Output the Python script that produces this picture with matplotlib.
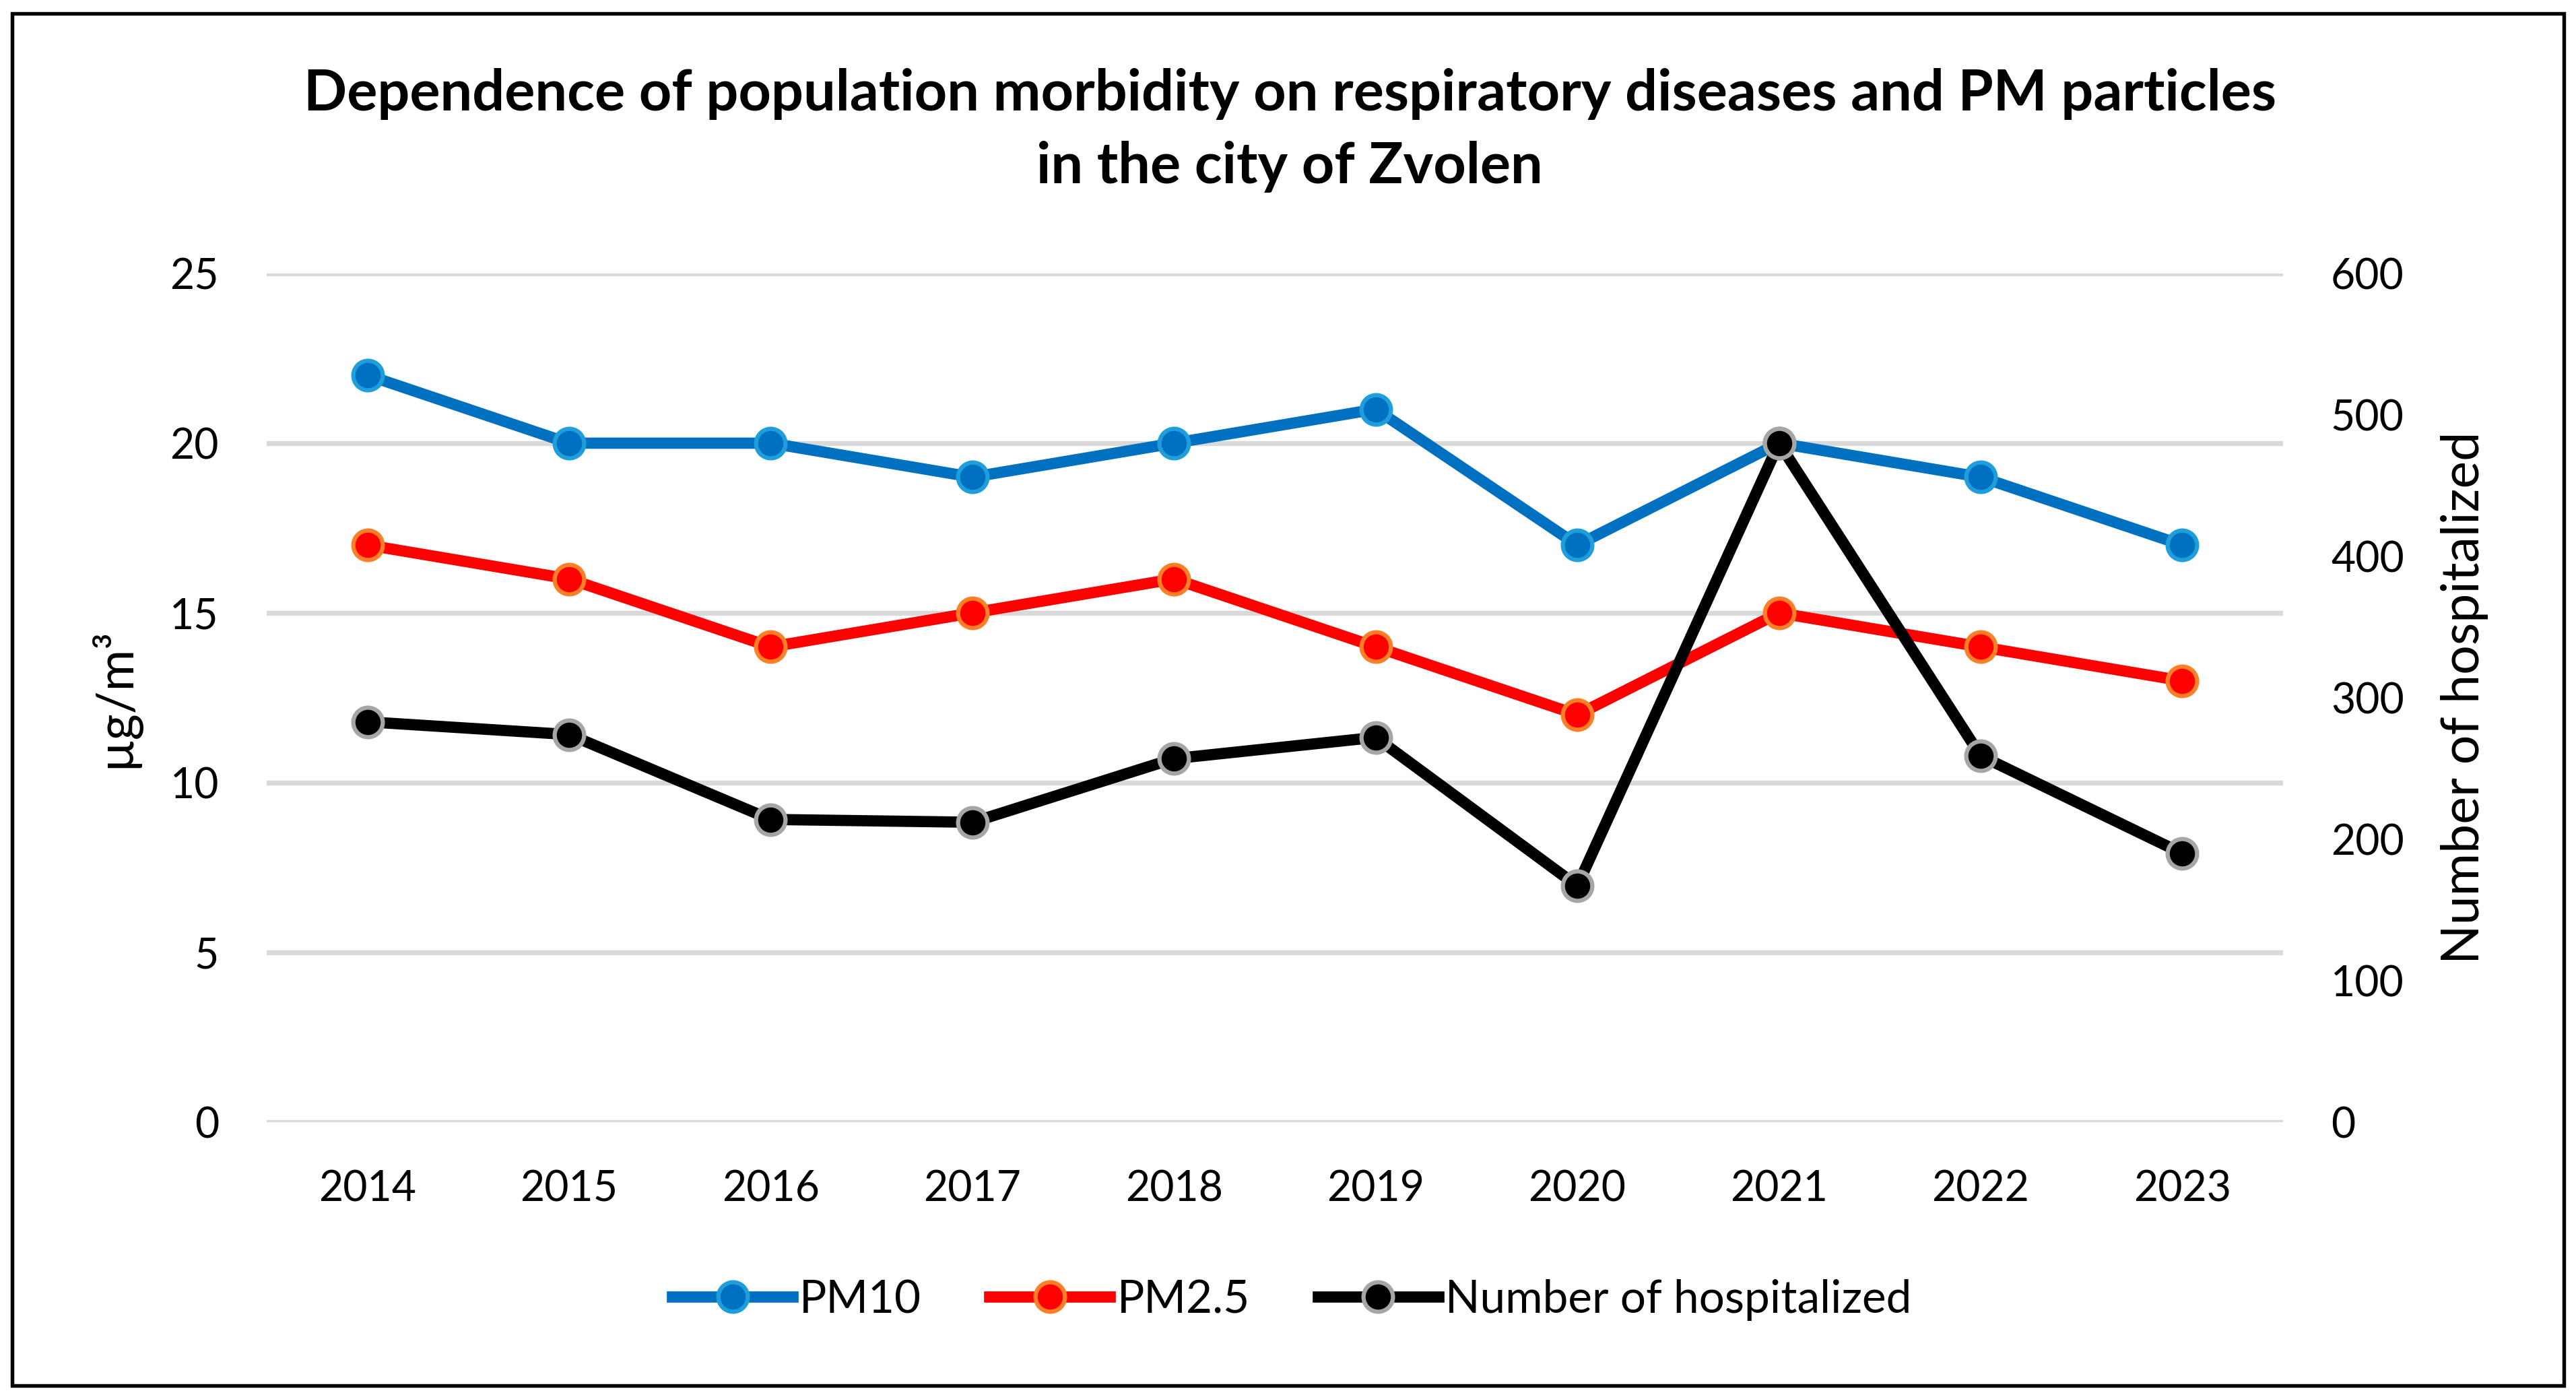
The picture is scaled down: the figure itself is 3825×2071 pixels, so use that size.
import matplotlib
matplotlib.use("Agg")
from matplotlib import pyplot as plt
from matplotlib.patches import Rectangle

years = ["2014", "2015", "2016", "2017", "2018", "2019", "2020", "2021", "2022", "2023"]
pm10 = [22, 20, 20, 19, 20, 21, 17, 20, 19, 17]
pm25 = [17, 16, 14, 15, 16, 14, 12, 15, 14, 13]
hospitalized = [283, 274, 214, 212, 257, 272, 167, 480, 259, 190]

plt.rcParams['font.family'] = ['Lato', 'DejaVu Sans']

fig = plt.figure(figsize=(12.75, 2071 / 300), dpi=300)
ax = fig.add_axes([0.1035, 0.1956, 0.7828, 0.6084])
ax2 = ax.twinx()

x = list(range(len(years)))
l1, = ax.plot(x, pm10, color='#0070C0', lw=4, marker='o', ms=10.5,
              mfc='#0070C0', mec='#1E9FDC', mew=1.5, label='PM10')
l2, = ax.plot(x, pm25, color='#FF0000', lw=4, marker='o', ms=10.5,
              mfc='#FF0000', mec='#FF7F27', mew=1.5, label='PM2.5')
l3, = ax2.plot(x, hospitalized, color='black', lw=4, marker='o', ms=10.5,
               mfc='black', mec='#A6A6A6', mew=1.5, label='Number of hospitalized')

ax.set_xlim(-0.5, 9.5)
ax.set_ylim(0, 25)
ax.set_yticks(range(0, 26, 5))
ax2.set_ylim(0, 600)
ax2.set_yticks(range(0, 601, 100))
ax.set_xticks(x)
ax.set_xticklabels(years)

ax.grid(axis='y', color='#D9D9D9', lw=1.75)
ax.set_axisbelow(True)
for a in (ax, ax2):
    for s in a.spines.values():
        s.set_visible(False)
ax.tick_params(axis='both', length=0, labelsize=15, pad=17)
ax2.tick_params(axis='y', length=0, labelsize=15, pad=17)

ax.set_ylabel('µg/m³', fontsize=18)
ax.yaxis.set_label_coords(-0.063, 0.5)
ax2.set_ylabel('Number of hospitalized', fontsize=18.5)
ax2.yaxis.set_label_coords(1.078, 0.5)

fig.text(0.5007, 1 - 139 / 2071, 'Dependence of population morbidity on respiratory diseases and PM particles',
         ha='center', va='center', fontsize=20.3, fontweight='bold')
fig.text(0.5007, 1 - 247 / 2071, 'in the city of Zvolen',
         ha='center', va='center', fontsize=20.3, fontweight='bold')

fig.legend(handles=[l1, l2, l3], loc='center', bbox_to_anchor=(0.5015, 1 - 1930 / 2071),
           ncol=3, frameon=False, fontsize=16.2, handlelength=2.65,
           handletextpad=0.15, columnspacing=1.5)

fig.patches.append(Rectangle((18 / 3825, 14 / 2071), 1 - 36 / 3825, 1 - 34 / 2071,
                             transform=fig.transFigure, fill=False, ec='black', lw=1.3))

fig.savefig('out.png', dpi=300)
